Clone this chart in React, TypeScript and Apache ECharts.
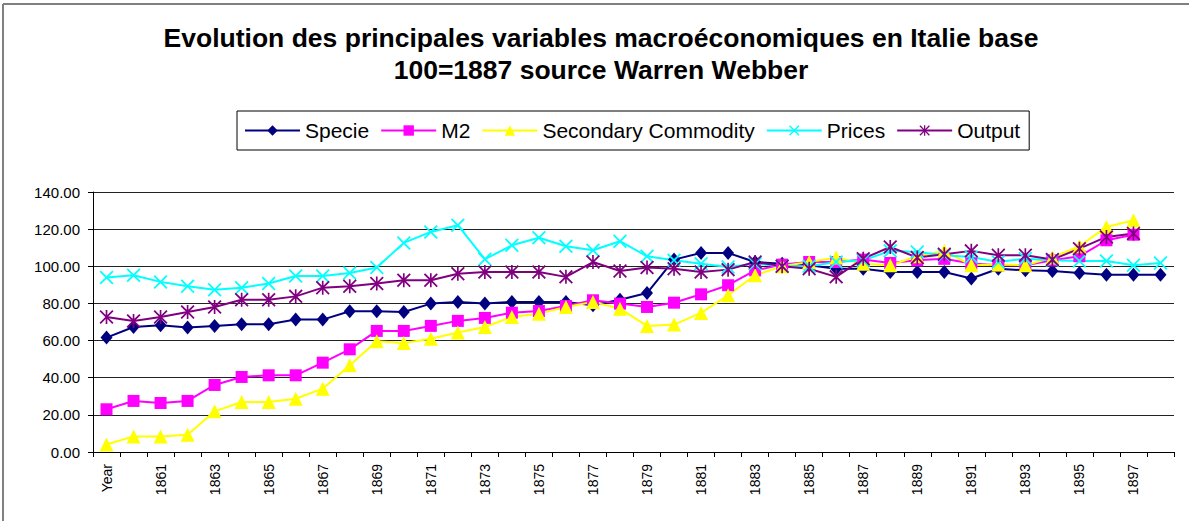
import React, { useEffect, useRef } from "react";
import * as echarts from "echarts";

const categories: string[] = ["Year"];
for (let y = 1860; y <= 1898; y++) categories.push(String(y));

const specie = [61.6, 67.3, 68.2, 67, 67.9, 68.8, 68.8, 71.3, 71.3, 75.8, 75.8, 75.4, 79.9, 80.8, 79.9, 80.8, 80.8, 80.8, 79, 82, 85.6, 103.6, 107.2, 107.2, 102.3, 101.4, 100.5, 98.7, 98.7, 96.9, 96.9, 96.9, 93.4, 98.7, 97.8, 97.5, 96.4, 95.5, 95.5, 95.5];
const m2 = [23, 27.5, 26.4, 27.5, 36.1, 40.4, 41.3, 41.3, 48.1, 55.3, 65.2, 65.2, 67.9, 70.6, 72.2, 75, 75.9, 78.6, 81.7, 79.9, 78.1, 80.4, 84.9, 89.8, 97.8, 100.9, 102.3, 102.3, 103.6, 101.8, 103.2, 104, 101.5, 100.5, 100.5, 103.2, 105.4, 114, 117, null];
const secondary = [4, 8.4, 8.4, 9.3, 21.9, 26.9, 26.9, 28.7, 34.1, 46.7, 59.6, 58.7, 61, 64.3, 67.3, 72.7, 74.5, 78.1, 80.8, 77.2, 67.9, 68.6, 74.9, 84.4, 95.2, 100, 102.3, 104.7, 101.4, 100.5, 105.4, 108.3, 100.5, 101, 100.5, 104.7, 110.8, 121.2, 124.8, null];
const prices = [93.9, 95.2, 91.6, 89.2, 87.4, 88.5, 90.7, 94.8, 94.8, 96.4, 99.3, 112.6, 118.5, 122.1, 103.8, 111.3, 115.4, 110.8, 108.6, 113.5, 105.4, 103.2, 101.4, 99.6, 101.4, 100, 100, 102.3, 103.2, 108.3, 107.7, 105.9, 105, 102.3, 104.1, 103.2, 102.9, 102.9, 100.5, 101.8];
const output = [72.7, 70.6, 72.7, 75.4, 78.1, 82, 82, 83.8, 88.5, 89.2, 90.7, 92.5, 92.5, 96, 96.9, 96.9, 96.9, 94.3, 102.3, 97.5, 99.3, 98.7, 96.9, 98.2, 102.3, 100, 98.7, 94.3, 104.1, 110.4, 104.7, 106.5, 108.3, 105.9, 105.9, 103.6, 109.5, 115.8, 117.6, null];

const FONT = "'Liberation Sans', Arial, sans-serif";
const X_SYMBOL = "path://M0,0.9 L0.9,0 L5,4.1 L9.1,0 L10,0.9 L5.9,5 L10,9.1 L9.1,10 L5,5.9 L0.9,10 L0,9.1 L4.1,5 Z";
const STAR_SYMBOL = "path://M0,0.9 L0.9,0 L4.4,3.5 L4.4,0 L5.6,0 L5.6,3.5 L9.1,0 L10,0.9 L5.9,5 L10,9.1 L9.1,10 L5.6,6.5 L5.6,10 L4.4,10 L4.4,6.5 L0.9,10 L0,9.1 L4.1,5 Z";

export default function App() {
  const ref = useRef<HTMLDivElement>(null);
  useEffect(() => {
    if (!ref.current) return;
    const chart = echarts.init(ref.current, null, { renderer: "svg" });
    const mk = (name: string, data: any[], color: string, symbol: string, size: number | number[]) => ({
      name,
      type: "line",
      data,
      symbol,
      symbolSize: size,
      showAllSymbol: true,
      connectNulls: false,
      lineStyle: { color, width: 2 },
      itemStyle: { color },
      emphasis: { disabled: true },
    });
    chart.setOption({
      animation: false,
      backgroundColor: "#ffffff",
      title: [
        {
          text: "Evolution des principales variables macroéconomiques en Italie base\n100=1887 source Warren Webber",
          left: 601,
          top: 22,
          textAlign: "center",
          padding: 0,
          textStyle: { fontFamily: FONT, fontSize: 26.5, fontWeight: "bold", color: "#000", lineHeight: 32 },
        },
      ],
      graphic: [
        { type: "line", shape: { x1: 3, y1: 4, x2: 1189, y2: 4 }, style: { stroke: "#808080", lineWidth: 2 } },
        { type: "line", shape: { x1: 3, y1: 4, x2: 3, y2: 521 }, style: { stroke: "#808080", lineWidth: 2 } },
      ],
      legend: {
        left: 237,
        top: 111,
        padding: [9, 9, 9, 7],
        itemGap: 11,
        itemWidth: 55,
        itemHeight: 13,
        borderColor: "#000",
        borderWidth: 1,
        textStyle: { fontFamily: FONT, fontSize: 21, color: "#000" },
        data: ["Specie", "M2", "Secondary Commodity", "Prices", "Output"],
      },
      grid: { left: 93, right: 15, top: 192, bottom: 69, containLabel: false },
      xAxis: {
        type: "category",
        data: categories,
        boundaryGap: true,
        axisLine: { lineStyle: { color: "#000", width: 1 } },
        axisTick: { show: true, interval: 0, length: 5, lineStyle: { color: "#000" } },
        axisLabel: { interval: 1, rotate: 90, fontFamily: FONT, fontSize: 14, color: "#000", margin: 12 },
        splitLine: { show: false },
      },
      yAxis: {
        type: "value",
        min: 0,
        max: 140,
        interval: 20,
        axisLine: { show: true, lineStyle: { color: "#000", width: 1 } },
        axisTick: { show: true, length: 5, lineStyle: { color: "#000" } },
        axisLabel: {
          fontFamily: FONT,
          fontSize: 15,
          color: "#000",
          margin: 13,
          formatter: (v: number) => v.toFixed(2),
        },
        splitLine: { show: true, lineStyle: { color: "#222", width: 1 } },
      },
      series: [
        mk("Specie", specie, "#000080", "diamond", [12, 14]),
        mk("M2", m2, "#FF00FF", "rect", 12),
        mk("Secondary Commodity", secondary, "#FFFF00", "triangle", 14),
        mk("Prices", prices, "#00FFFF", X_SYMBOL, 14),
        mk("Output", output, "#800080", STAR_SYMBOL, 14),
      ],
    });
    return () => chart.dispose();
  }, []);
  return (
    <div
      ref={ref}
      style={{ position: "absolute", left: 0, top: 0, width: 1189, height: 521, background: "#fff" }}
    />
  );
}
